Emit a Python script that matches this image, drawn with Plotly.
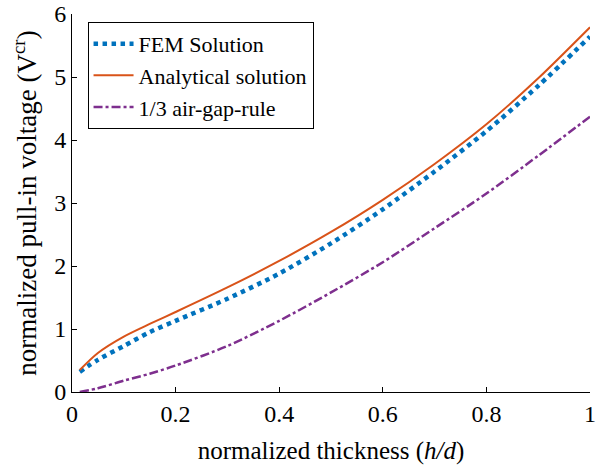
import plotly.graph_objects as go

h_d = [0.015, 0.05, 0.1, 0.15, 0.2, 0.3, 0.4, 0.5, 0.6, 0.7, 0.8, 0.9, 1.0]
fem = [0.32, 0.51, 0.73, 0.95, 1.13, 1.48, 1.88, 2.36, 2.90, 3.50, 4.14, 4.86, 5.64]
analytical = [0.35, 0.62, 0.88, 1.08, 1.27, 1.66, 2.08, 2.54, 3.05, 3.62, 4.25, 4.98, 5.79]
air_gap = [0.0, 0.06, 0.18, 0.29, 0.42, 0.73, 1.13, 1.58, 2.06, 2.60, 3.15, 3.75, 4.37]

x_ticks = [0, 0.2, 0.4, 0.6, 0.8, 1]
x_labels = ["0", "0.2", "0.4", "0.6", "0.8", "1"]
y_ticks = [0, 1, 2, 3, 4, 5, 6]

font_family = "Liberation Serif, Times New Roman, serif"

fig = go.Figure()
fig.add_trace(go.Scatter(x=h_d, y=fem, mode="lines", name="FEM Solution",
                         line=dict(color="#0072BD", width=4.5, dash="dot", shape="spline", smoothing=0.8)))
fig.add_trace(go.Scatter(x=h_d, y=analytical, mode="lines", name="Analytical solution",
                         line=dict(color="#D95319", width=2, shape="spline", smoothing=0.8)))
fig.add_trace(go.Scatter(x=h_d, y=air_gap, mode="lines", name="1/3 air-gap-rule",
                         line=dict(color="#7E2F8E", width=2.5, dash="dashdot", shape="spline", smoothing=0.8)))

axis_common = dict(showgrid=False, zeroline=False, showline=True, linecolor="black",
                   linewidth=1, ticks="inside", ticklen=5, tickcolor="black",
                   tickfont=dict(family=font_family, size=24, color="black"),
                   mirror=False, automargin=False)

fig.update_layout(
    width=603, height=467,
    margin=dict(l=72, r=13, t=14, b=75),
    paper_bgcolor="white", plot_bgcolor="white",
    font=dict(family=font_family, color="black"),
    xaxis=dict(range=[0, 1], tickvals=x_ticks, ticktext=x_labels,
               title=dict(text="normalized thickness (<i>h/d</i>)",
                          font=dict(family=font_family, size=25), standoff=15),
               **axis_common),
    yaxis=dict(range=[0, 6], tickvals=y_ticks,
               title=dict(text="normalized pull-in voltage (V<sup>cr</sup>)",
                          font=dict(family=font_family, size=27), standoff=9),
               **axis_common),
    legend=dict(x=0.03, y=0.979, xanchor="left", yanchor="top",
                bgcolor="white", bordercolor="black", borderwidth=1,
                font=dict(family=font_family, size=22, color="black"),
                tracegroupgap=0, itemwidth=40),
    showlegend=True,
)

fig.write_html("out.html", config={"displayModeBar": False},
               post_script="document.body.style.margin='0px';")
